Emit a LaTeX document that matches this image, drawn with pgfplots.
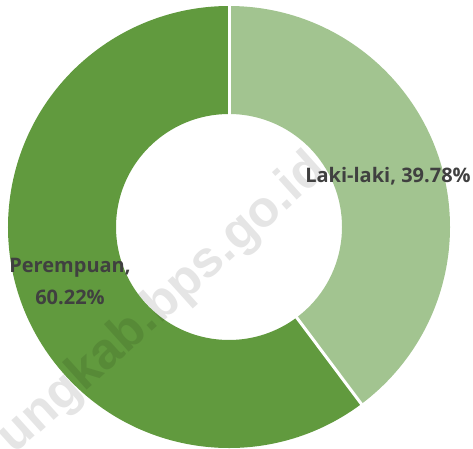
\documentclass[border=0pt]{standalone}
\usepackage{pgfplots}
\pgfplotsset{compat=1.18}
\usepackage{pgfplotstable}
\usepackage{fontspec}
\setmainfont{Open Sans}
\newfontfamily\wmfont{Liberation Sans}
\definecolor{laki}{HTML}{A2C490}
\definecolor{perem}{HTML}{619A3E}
\definecolor{lbl}{HTML}{404040}
\pgfplotstableread{
group value
Laki-laki 39.78
Perempuan 60.22
}\sharetable
\pgfplotstablegetelem{0}{value}\of\sharetable \let\lakival\pgfplotsretval
\pgfplotstablegetelem{1}{value}\of\sharetable \let\peremval\pgfplotsretval
\begin{document}
\begin{tikzpicture}
\begin{axis}[width=473pt,height=448pt,scale only axis,xmin=0,xmax=473,ymin=0,ymax=448,hide axis,clip=false]
\pgfmathsetmacro{\aend}{90-3.6*\lakival}
\pgfmathsetmacro{\bend}{\aend-3.6*\peremval}
\fill[laki] (axis cs:229,221) ++(90:221pt) arc[start angle=90,end angle=\aend,radius=221pt] -- ++(\aend:-108pt) arc[start angle=\aend,end angle=90,radius=113pt] -- cycle;
\fill[perem] (axis cs:229,221) ++(\aend:221pt) arc[start angle=\aend,end angle=\bend,radius=221pt] -- ++(\bend:-108pt) arc[start angle=\bend,end angle=\aend,radius=113pt] -- cycle;
\draw[white,line width=3pt] (axis cs:229,221) ++(90:110pt) -- ++(90:114pt);
\draw[white,line width=3pt] (axis cs:229,221) ++(\aend:110pt) -- ++(\aend:114pt);
\node[rotate=42,text=black,opacity=0.1,font=\wmfont\bfseries\fontsize{51}{51}\selectfont] at (axis cs:163,144) {ungkab.bps.go.id};
\node[text=lbl,font=\bfseries\fontsize{20}{20}\selectfont] at (axis cs:388,272) {Laki-laki, 39.78\%};
\node[text=lbl,font=\bfseries\fontsize{20}{20}\selectfont] at (axis cs:70,180) {Perempuan,};
\node[text=lbl,font=\bfseries\fontsize{20}{20}\selectfont] at (axis cs:70,151) {60.22\%};
\end{axis}
\pgfresetboundingbox
\path[use as bounding box] (0,0) rectangle (473pt,448pt);
\end{tikzpicture}
\end{document}
